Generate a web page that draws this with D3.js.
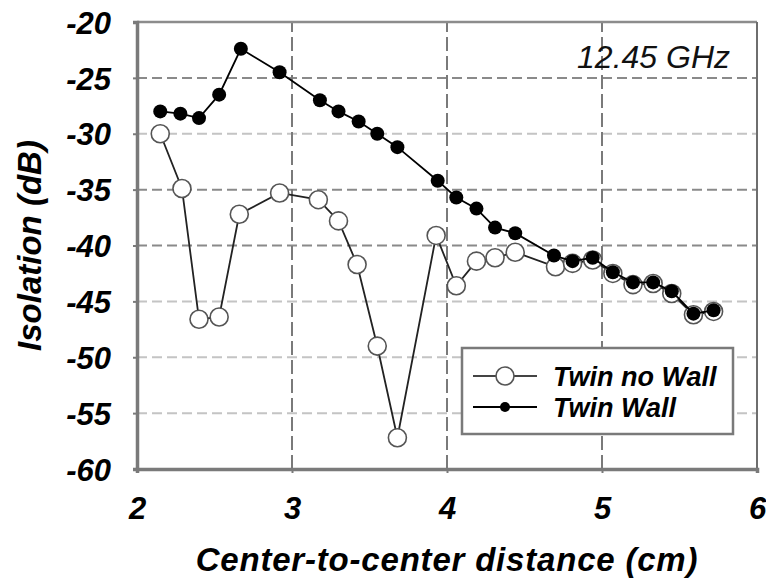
<!DOCTYPE html>
<html><head><meta charset="utf-8">
<script src="https://cdn.jsdelivr.net/npm/d3@7"></script>
<style>body{margin:0;background:#fff}svg{display:block}</style>
</head><body><svg id="c" width="766" height="580"></svg>
<script>
const xTicks = [2, 3, 4, 5, 6];
const yTicks = [-20, -25, -30, -35, -40, -45, -50, -55, -60];
const xWall = [2.15,2.28,2.40,2.53,2.67,2.92,3.18,3.30,3.43,3.55,3.68,3.94,4.06,4.19,4.31,4.44,4.69,4.81,4.94,5.07,5.20,5.33,5.45,5.59,5.72];
const yWall = [-28.0,-28.2,-28.6,-26.5,-22.4,-24.5,-27.0,-28.0,-28.9,-30.0,-31.2,-34.2,-35.7,-36.7,-38.4,-38.9,-40.9,-41.4,-41.1,-42.4,-43.3,-43.3,-44.1,-46.1,-45.8];
const xNoWall = [2.15,2.29,2.40,2.53,2.66,2.92,3.17,3.30,3.42,3.55,3.68,3.93,4.06,4.19,4.31,4.44,4.70,4.81,4.94,5.07,5.20,5.33,5.45,5.59,5.72];
const yNoWall = [-30.0,-34.9,-46.6,-46.4,-37.2,-35.3,-35.9,-37.8,-41.7,-49.0,-57.2,-39.1,-43.6,-41.4,-41.1,-40.6,-41.9,-41.6,-41.3,-42.5,-43.5,-43.4,-44.3,-46.2,-45.9];
const seriesNames = ["Twin no Wall", "Twin Wall"];
const annotation = "12.45 GHz";
const xTitle = "Center-to-center distance (cm)";
const yTitle = "Isolation (dB)";

const W = 766, H = 580;
const m = {left: 137, top: 22, right: 9, bottom: 111};
const svg = d3.select("#c");
const x = d3.scaleLinear().domain([2, 6]).range([m.left, W - m.right]);
const y = d3.scaleLinear().domain([-60, -20]).range([H - m.bottom, m.top]);
const font = "'Liberation Sans', Arial, sans-serif";

// gridlines
const lightY = new Set([-30, -45, -50, -55]);
svg.append("g").selectAll("line").data(yTicks.filter(d => d > -60 && d < -20)).join("line")
  .attr("x1", x(2)).attr("x2", x(6)).attr("y1", d => y(d)).attr("y2", d => y(d))
  .attr("stroke", d => lightY.has(d) ? "#c4c4c4" : "#8a8a8a").attr("stroke-width", 2)
  .attr("stroke-dasharray", "10,5");
svg.append("g").selectAll("line").data(xTicks.filter(d => d > 2 && d < 6)).join("line")
  .attr("x1", d => x(d)).attr("x2", d => x(d)).attr("y1", y(-60)).attr("y2", y(-20))
  .attr("stroke", "#7a7a7a").attr("stroke-width", 2).attr("stroke-dasharray", "14,5");

// frame
svg.append("line").attr("x1", x(2)).attr("x2", x(6)).attr("y1", y(-20)).attr("y2", y(-20))
  .attr("stroke", "#8c8c8c").attr("stroke-width", 2.5);
svg.append("line").attr("x1", x(6)).attr("x2", x(6)).attr("y1", y(-20)).attr("y2", y(-60))
  .attr("stroke", "#6e6e6e").attr("stroke-width", 2);

// axes
const xAxis = d3.axisBottom(x).tickValues(xTicks).tickSize(4).tickPadding(24).tickFormat(d3.format("d"));
const yAxis = d3.axisLeft(y).tickValues(yTicks).tickSize(4).tickPadding(22).tickFormat(d => d3.format("d")(d).replace("−", "-"));
const gx = svg.append("g").attr("transform", `translate(0,${y(-60)})`).call(xAxis);
const gy = svg.append("g").attr("transform", `translate(${x(2)},0)`).call(yAxis);
[gx, gy].forEach(g => {
  g.select(".domain").attr("stroke", "#7a7a7a").attr("stroke-width", 3.5);
  g.selectAll(".tick line").attr("stroke", "#7a7a7a").attr("stroke-width", 2);
  g.selectAll("text").attr("font-family", font).attr("font-size", 31)
    .attr("font-weight", "bold").attr("font-style", "italic").attr("fill", "#000");
});
gy.selectAll("text").attr("dy", "0.36em");

// series lines
const line = d3.line().x(d => x(d[0])).y(d => y(d[1]));
const noWall = xNoWall.map((v, i) => [v, yNoWall[i]]);
const wall = xWall.map((v, i) => [v, yWall[i]]);
svg.append("path").datum(noWall).attr("d", line).attr("fill", "none").attr("stroke", "#222").attr("stroke-width", 1.8);
svg.append("g").selectAll("circle").data(noWall).join("circle")
  .attr("cx", d => x(d[0])).attr("cy", d => y(d[1])).attr("r", 9)
  .attr("fill", "#fff").attr("stroke", "#555").attr("stroke-width", 1.6);
svg.append("path").datum(wall).attr("d", line).attr("fill", "none").attr("stroke", "#000").attr("stroke-width", 1.8);
svg.append("g").selectAll("circle").data(wall).join("circle")
  .attr("cx", d => x(d[0])).attr("cy", d => y(d[1])).attr("r", 7)
  .attr("fill", "#000");

// annotation
svg.append("text").attr("x", 730).attr("y", 68).attr("text-anchor", "end")
  .attr("font-family", font).attr("font-size", 32).attr("font-style", "italic").attr("fill", "#111")
  .text(annotation);

// legend
const lg = svg.append("g");
lg.append("rect").attr("x", 462).attr("y", 348).attr("width", 271).attr("height", 86)
  .attr("fill", "#fff").attr("stroke", "#7a7a7a").attr("stroke-width", 2.5);
const ly = [376, 407];
seriesNames.forEach((name, i) => {
  lg.append("line").attr("x1", 473).attr("x2", 537).attr("y1", ly[i]).attr("y2", ly[i])
    .attr("stroke", i === 0 ? "#444" : "#000").attr("stroke-width", 1.8);
  if (i === 0) lg.append("circle").attr("cx", 505).attr("cy", ly[i]).attr("r", 9)
    .attr("fill", "#fff").attr("stroke", "#555").attr("stroke-width", 1.6);
  else lg.append("circle").attr("cx", 505).attr("cy", ly[i]).attr("r", 5).attr("fill", "#000");
  lg.append("text").attr("x", 553).attr("y", ly[i]).attr("dy", "0.36em")
    .attr("font-family", font).attr("font-size", 27).attr("font-weight", "bold").attr("font-style", "italic")
    .attr("fill", "#000").text(name);
});

// axis titles
svg.append("text").attr("x", (x(2) + x(6)) / 2).attr("y", 571).attr("text-anchor", "middle")
  .attr("font-family", font).attr("font-size", 33).attr("letter-spacing", 0.8).attr("font-weight", "bold").attr("font-style", "italic")
  .attr("fill", "#000").text(xTitle);
svg.append("text").attr("transform", `translate(41,${(y(-20) + y(-60)) / 2}) rotate(-90)`)
  .attr("text-anchor", "middle")
  .attr("font-family", font).attr("font-size", 33).attr("font-weight", "bold").attr("font-style", "italic")
  .attr("fill", "#000").text(yTitle);
</script></body></html>
